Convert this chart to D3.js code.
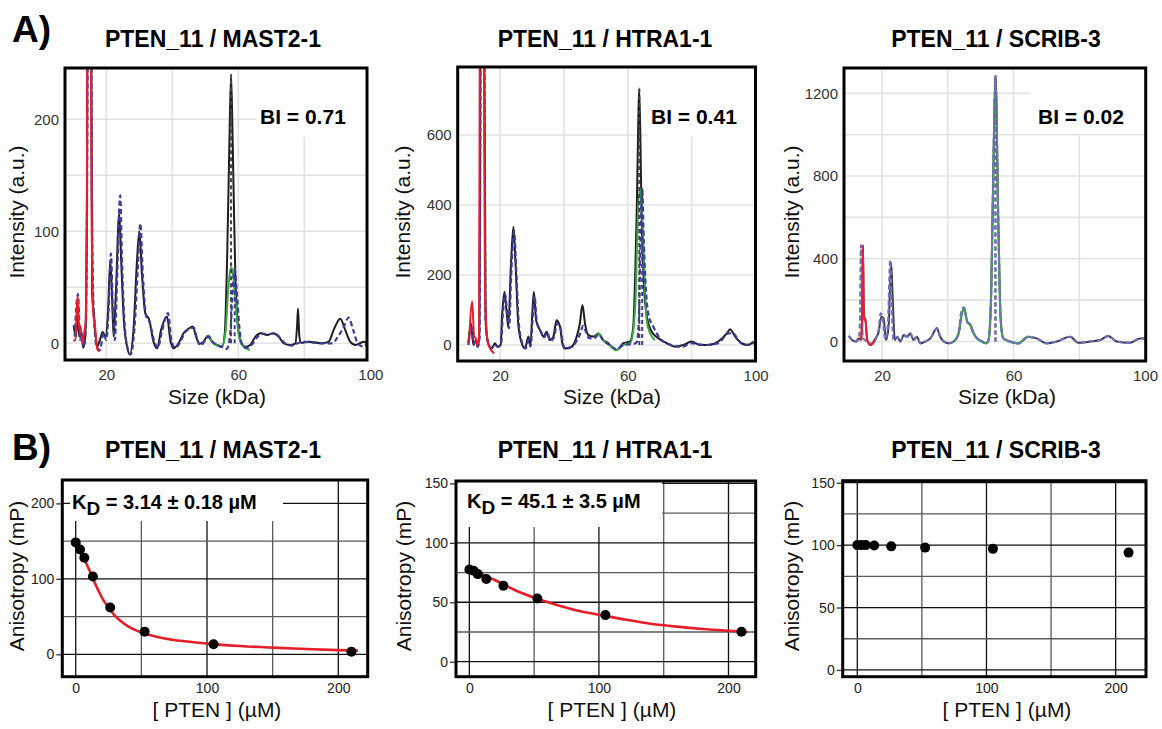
<!DOCTYPE html>
<html><head><meta charset="utf-8">
<script src="https://cdn.jsdelivr.net/npm/d3@7"></script>
<style>body{margin:0;background:#fff;}</style>
</head><body><svg id="chart" width="1162" height="729"></svg>
<script>
// ---------------- DATA ----------------
const panelTitles = ["PTEN_11 / MAST2-1", "PTEN_11 / HTRA1-1", "PTEN_11 / SCRIB-3"];
const biLabels = ["BI = 0.71", "BI = 0.41", "BI = 0.02"];
const sizeTickLabels = [20, 60, 100];
const sizeGridLines = [20, 40, 60, 80];

const mast2IntTicks = [0, 100, 200];
const mast2IntGrid = [0, 50, 100, 150, 200];
const htra1IntTicks = [0, 200, 400, 600];
const htra1IntGrid = [0, 200, 400, 600];
const scrib3IntTicks = [0, 400, 800, 1200];
const scrib3IntGrid = [0, 200, 400, 600, 800, 1000, 1200];

// traces: [size kDa, intensity a.u.]
const mast2Black = [[10.1,16],[10.8,6],[11.3,27],[11.8,6],[12.4,9],[13.0,-4],[13.6,6],[14.1,104],[14.4,400],[15.3,400],[15.7,45],[16.2,27],[17.2,-3],[18.2,4.5],[18.9,10],[19.7,6],[20.5,27],[21.2,74],[21.7,45],[22.2,6],[22.9,45],[23.9,116],[24.5,74],[25.3,21],[26.3,-3],[27.1,-10],[28.3,15],[29.3,74],[30.0,100],[30.8,62],[31.8,27],[33.0,21],[34.3,1.5],[35.4,-4.5],[36.6,12],[38.4,24],[39.4,3],[40.4,-4.5],[41.9,0],[43.4,9],[44.9,13],[46.2,15],[47.2,6],[48.2,-0.5],[49.5,1.5],[50.7,6.5],[52.0,1.5],[53.5,-1.5],[55.1,-3],[55.9,9],[56.6,74],[57.3,179],[57.8,240],[58.3,179],[59.1,60],[59.9,15],[60.9,0],[62.1,-3],[63.6,-1.5],[65.2,6],[66.7,9],[68.7,7.5],[70.7,9],[72.2,6],[73.8,0],[75.8,-1.5],[77.3,0],[77.8,15],[78.1,31],[78.5,6],[79.1,0.5],[81.3,1.5],[85.4,0],[87.4,1.5],[88.9,12],[90.9,22],[92.4,12],[93.9,1.5],[95.5,-1.5],[98.0,1.5],[99.0,0.5]];
const mast2Blue = [[10.4,6],[11.4,44],[12.1,3],[12.6,9],[13.2,-3],[13.8,15],[14.2,150],[14.5,400],[15.3,400],[15.6,150],[16.2,27],[17.1,-3],[18.1,-6],[19.1,9],[20.0,3],[20.7,30],[21.4,80],[22.0,30],[22.6,3],[23.2,50],[24.2,132],[24.8,70],[25.6,15],[26.6,-6],[27.4,-10],[28.5,12],[29.6,70],[30.3,107],[31.1,60],[32.0,25],[33.2,18],[34.5,2],[35.6,-4],[36.8,10],[38.7,27],[39.7,3],[40.8,-4],[42.2,0],[43.7,9],[45.3,13],[46.5,14],[47.5,4],[48.6,-2],[49.8,2],[51.0,6],[52.3,1],[54.0,-2],[55.5,-4],[56.5,-5],[57.6,10],[58.3,48],[58.9,66],[59.5,48],[60.3,15],[61.3,-2],[62.5,-4],[64.0,-1.5],[65.6,5],[67.0,9],[69.0,8],[71.0,9],[72.6,5],[74.2,0],[76.2,-2],[78.0,0],[79.4,1.5],[81.7,1],[85.8,0],[88.5,0],[90.0,5],[92.0,15],[93.4,23],[94.8,12],[96.2,0],[98.0,-3],[99.0,0]];
const mast2Green = [[50.3,6],[51.0,7],[52.0,2],[53.5,-2],[55.1,-3],[55.8,4],[56.2,12],[56.8,42],[57.4,62],[57.9,68],[58.4,62],[59.1,39],[60.1,9],[61.0,-1],[62.0,-4],[63.5,-6]];
const mast2Red = [[10.0,2],[10.6,3],[11.3,43],[11.8,12],[12.2,15],[12.8,0],[13.3,9],[13.8,21],[14.1,120],[14.4,400],[15.2,400],[15.5,150],[16.0,28],[16.5,18],[17.2,-4.5],[17.9,-7.5]];
const mast2Markers = [[57.8,240],[58.9,66]];

const htra1Black = [[10.1,5],[10.9,62],[11.7,0],[12.4,14],[13.0,-5],[13.5,24],[14.1,1200],[14.9,1200],[15.5,71],[16.3,5],[17.4,-10],[18.4,5],[19.2,-5],[20.2,0],[20.7,90],[21.4,152],[22.1,90],[22.6,52],[23.4,224],[24.2,338],[24.9,224],[25.7,62],[26.8,5],[27.8,-10],[28.9,24],[29.5,-5],[30.1,90],[30.6,152],[31.3,71],[32.5,43],[33.6,24],[34.6,38],[35.6,14],[36.7,24],[37.7,71],[38.8,52],[39.5,5],[40.3,-10],[42.4,-5],[44.0,24],[45.0,62],[45.8,114],[46.6,62],[47.6,29],[49.2,24],[50.8,33],[52.3,14],[53.9,5],[54.4,0],[56.5,-14],[58.6,5],[60.7,10],[61.7,52],[62.8,386],[63.6,733],[64.3,386],[65.2,148],[66.2,71],[67.5,38],[69.6,19],[72.2,5],[74.8,-5],[77.4,0],[80.0,10],[82.6,0],[85.2,0],[88.3,10],[91.0,33],[92.0,45],[93.6,24],[95.6,5],[97.7,0],[99.3,10]];
const htra1Blue = [[10.1,0],[11.0,60],[11.7,5],[12.5,10],[13.0,-5],[13.6,20],[14.1,1200],[14.9,1200],[15.5,71],[16.3,5],[17.4,-8],[18.4,0],[19.3,-5],[20.3,0],[20.9,90],[21.6,145],[22.3,85],[22.8,48],[23.6,220],[24.4,325],[25.1,210],[25.9,60],[27.0,5],[28.0,-10],[29.0,15],[29.6,-3],[30.3,90],[30.8,140],[31.5,68],[32.7,40],[33.8,22],[34.8,35],[35.8,12],[36.9,22],[37.9,62],[39.0,45],[39.7,3],[40.5,-10],[42.5,-5],[44.2,15],[45.2,35],[46.0,55],[46.8,40],[47.8,20],[49.3,18],[50.9,30],[52.4,12],[54.0,2],[56.5,-12],[58.6,0],[60.7,2],[61.7,3],[62.8,8],[63.4,60],[64.0,300],[64.5,448],[65.0,300],[65.4,205],[66.4,90],[68.0,52],[70.6,14],[73.7,0],[76.9,-5],[80.0,5],[84.2,0],[88.3,5],[91.5,33],[93.0,33],[94.6,14],[96.7,0],[99.5,5]];
const htra1Green = [[49.7,24],[50.8,33],[52.3,14],[53.9,2],[55.5,-10],[56.5,-14],[58.6,0],[60.7,5],[61.7,40],[62.5,148],[63.1,357],[63.8,448],[64.3,400],[64.9,281],[65.9,71],[67.0,33],[68.5,14]];
const htra1Red = [[10.3,5],[11.3,124],[11.9,24],[12.4,19],[12.9,0],[13.4,24],[13.8,1200],[14.8,1200],[15.3,148],[16.1,14],[16.9,-10],[17.6,-19],[18.2,-24]];
const htra1Markers = [[63.6,733],[64.5,448]];

const scrib3Black = [[9.9,27],[10.9,7],[12.1,0],[12.9,15],[13.6,10],[13.9,60],[14.2,466],[14.5,104],[14.9,112],[15.5,7],[16.5,-17],[17.2,-9],[18.0,15],[19.0,47],[19.8,120],[20.5,112],[21.2,7],[22.0,72],[22.8,378],[23.2,233],[23.9,7],[24.6,23],[25.6,0],[26.6,31],[27.6,23],[28.6,39],[29.6,7],[30.6,23],[31.7,-9],[33.2,0],[34.7,15],[36.7,64],[37.7,23],[38.8,0],[40.3,-9],[41.8,0],[43.3,39],[44.3,136],[45.0,160],[45.9,96],[46.9,80],[47.9,39],[48.9,15],[50.4,0],[51.6,-9],[52.4,7],[53.2,233],[54.0,958],[54.5,1285],[55.4,555],[56.1,104],[56.9,15],[58.9,0],[61.5,-9],[64.5,23],[67.0,15],[70.1,-9],[73.1,0],[77.2,23],[79.7,-6],[83.3,0],[86.3,7],[88.8,27],[91.4,0],[95.4,-6],[98.5,15],[100,15]];
const scrib3Blue = [[9.9,27],[10.9,7],[12.1,0],[12.9,10],[13.3,100],[13.6,466],[13.9,200],[14.1,23],[14.6,10],[15.5,0],[16.5,-10],[17.5,0],[18.3,20],[19.0,60],[19.6,136],[20.3,100],[21.0,10],[21.8,80],[22.5,394],[22.9,200],[23.5,7],[24.6,23],[25.6,0],[26.6,31],[27.6,23],[28.6,39],[29.6,7],[30.6,23],[31.7,-9],[33.2,0],[34.7,15],[36.7,64],[37.7,23],[38.8,0],[40.3,-9],[41.8,0],[43.3,45],[44.2,150],[44.9,165],[45.8,100],[46.8,80],[47.8,39],[48.9,15],[50.4,0],[51.6,-9],[52.4,7],[53.2,233],[54.0,958],[54.5,1285],[55.4,555],[56.1,104],[56.9,15],[58.9,0],[61.5,-9],[64.5,23],[67.0,15],[70.1,-9],[73.1,0],[77.2,23],[79.7,-6],[83.3,0],[86.3,7],[88.8,27],[91.4,0],[95.4,-6],[98.5,15],[100,15]];
const scrib3Green = [[41.8,0],[43.3,39],[44.3,136],[45.0,160],[45.9,96],[46.9,80],[47.9,39],[48.9,15],[50.4,0],[51.6,-9],[52.4,7],[53.2,233],[54.0,958],[54.5,1285],[55.4,555],[56.1,104],[56.9,15],[58.9,0],[61.5,-9],[64.5,23],[66.0,18]];
const scrib3Red = [[13.7,5],[14.0,200],[14.2,466],[14.4,200],[14.6,104],[14.9,112],[15.2,60],[15.5,7],[16.5,-17],[17.2,-9],[17.8,7]];
const scrib3Markers = [[54.5,1285],[54.5,1285]];

// B) anisotropy titrations
const ptenConc = [0, 3.28, 6.56, 13.1, 26.3, 52.5, 105, 210];
const mast2Aniso = [148.3, 139, 128, 103, 62, 30, 13.2, 3.5];
const htra1Aniso = [77.6, 76.5, 73.7, 69.5, 63.9, 53.2, 39.2, 25.2];
const scrib3Aniso = [100, 100, 100, 99.7, 99, 98, 97, 94];
const mast2FitX = [0,3,6,9,12,15,18,21,25,30,35,40,50,60,75,90,105,125,150,175,200,215];
const mast2FitY = [148,138,128,117,105,93,82,72,62,51,43,37,29,24,19,16,13.5,11,8.8,7,5.5,4.8];
const htra1FitX = [0,10,20,30,40,52.5,65,80,95,105,120,140,160,180,200,215];
const htra1FitY = [78,73.5,68.5,63,58,53,48.5,44,40.5,38.5,35.5,32,29.5,27.5,26,25];
const kdValues = ["3.14 ± 0.18 µM", "45.1 ± 3.5 µM"];
const concTickLabels = [0, 100, 200];
const concGridMajor = [0, 100, 200];
const concGridMinor = [50, 150];
const mast2AnisoTicks = [0, 100, 200];
const mast2AnisoMinor = [50, 150];
const anisoTicks150 = [0, 50, 100, 150];
const anisoMinor150 = [25, 75, 125];

// ---------------- DRAWING ----------------
const FONT = '"Liberation Sans", Arial, Helvetica, sans-serif';
const svg = d3.select('#chart');
let clipN = 0;

function addText(x, y, str, size, weight, anchor, fill) {
  return svg.append('text').attr('x', x).attr('y', y).text(str)
    .attr('font-family', FONT).attr('font-size', size).attr('font-weight', weight || 'normal')
    .attr('text-anchor', anchor || 'start').attr('fill', fill || '#000');
}
function addVText(x, y, str, size) {
  return svg.append('text').attr('transform', `translate(${x},${y}) rotate(-90)`).text(str)
    .attr('font-family', FONT).attr('font-size', size).attr('text-anchor', 'middle').attr('fill', '#111');
}
function makeClip(o) {
  const id = 'clip' + (clipN++);
  svg.append('clipPath').attr('id', id).append('rect')
    .attr('x', o.left).attr('y', o.top).attr('width', o.right - o.left).attr('height', o.bottom - o.top);
  return `url(#${id})`;
}

addText(12, 42, 'A)', 37, 'bold');
addText(12, 460, 'B)', 37, 'bold');

function panelA(o) {
  const x = d3.scaleLinear().domain(o.xDomain).range([o.left, o.right]);
  const y = d3.scaleLinear().domain(o.yDomain).range([o.bottom, o.top]);
  const clip = makeClip(o);
  const g = svg.append('g');
  const grid = g.append('g').attr('clip-path', clip);
  grid.selectAll(null).data(sizeGridLines).enter().append('line')
    .attr('x1', d => x(d)).attr('x2', d => x(d)).attr('y1', o.top).attr('y2', o.bottom)
    .attr('stroke', '#e3e3e3').attr('stroke-width', 1.6);
  grid.selectAll(null).data(o.grid).enter().append('line')
    .attr('x1', o.left).attr('x2', o.right).attr('y1', d => y(d)).attr('y2', d => y(d))
    .attr('stroke', '#e3e3e3').attr('stroke-width', 1.6);
  // label background
  g.append('rect').attr('x', o.box[0]).attr('y', o.top).attr('width', o.right - o.box[0]).attr('height', o.box[1] - o.top).attr('fill', '#fff');

  const line = d3.line().x(d => x(d[0])).y(d => y(d[1])).curve(d3.curveMonotoneX);
  const tg = g.append('g').attr('clip-path', clip).attr('fill', 'none').attr('stroke-linejoin', 'round');
  tg.append('path').datum(o.black).attr('d', line).attr('stroke', o.blackColor).attr('stroke-width', 2);
  tg.append('path').datum(o.green).attr('d', line).attr('stroke', '#3aa845').attr('stroke-width', 2);
  tg.append('path').datum(o.blue).attr('d', line).attr('stroke', o.blueColor).attr('stroke-width', 2.2).attr('stroke-dasharray', '5,3');
  tg.append('path').datum(o.red).attr('d', line).attr('stroke', '#e3202b').attr('stroke-width', 2);
  tg.selectAll(null).data(o.markers).enter().append('line')
    .attr('x1', d => x(d[0])).attr('x2', d => x(d[0])).attr('y1', y(0)).attr('y2', d => y(d[1]))
    .attr('stroke', (d, i) => i === 0 ? '#444' : o.blueColor).attr('stroke-width', 2).attr('stroke-dasharray', '4,3');

  g.append('rect').attr('x', o.left).attr('y', o.top).attr('width', o.right - o.left).attr('height', o.bottom - o.top)
    .attr('fill', 'none').attr('stroke', '#000').attr('stroke-width', 3);

  const xa = g.append('g').attr('transform', `translate(0,${o.bottom})`)
    .call(d3.axisBottom(x).tickValues(sizeTickLabels).tickFormat(d3.format('d')).tickSize(0).tickPadding(9));
  xa.select('.domain').remove();
  xa.attr('font-family', FONT).attr('font-size', 15);
  xa.selectAll('text').attr('fill', '#333');
  const ya = g.append('g').attr('transform', `translate(${o.left},0)`)
    .call(d3.axisLeft(y).tickValues(o.ticks).tickFormat(d3.format('d')).tickSize(0).tickPadding(6));
  ya.select('.domain').remove();
  ya.attr('font-family', FONT).attr('font-size', 15);
  ya.selectAll('text').attr('fill', '#333');

  addText(o.titleX, 47, o.title, 23, 'bold', 'middle');
  addText(o.biX, 124, o.bi, 21, 'bold');
  addText(o.xTitleX, 404, 'Size (kDa)', 21, 'normal', 'middle', '#111');
  addVText(o.yTitleX, 212, 'Intensity (a.u.)', 21);
}

panelA({left: 65, right: 367, top: 68, bottom: 360, xDomain: [7.48, 99.0], yDomain: [-14.9, 245.8],
  grid: mast2IntGrid, ticks: mast2IntTicks, box: [257, 137],
  black: mast2Black, blue: mast2Blue, green: mast2Green, red: mast2Red, markers: mast2Markers,
  blackColor: '#1e1e1e', blueColor: '#3c3c9e',
  title: panelTitles[0], titleX: 213, bi: biLabels[0], biX: 260, xTitleX: 217, yTitleX: 24});
panelA({left: 457.7, right: 755.5, top: 67, bottom: 361, xDomain: [6.76, 99.97], yDomain: [-45.7, 794.3],
  grid: htra1IntGrid, ticks: htra1IntTicks, box: [648, 137],
  black: htra1Black, blue: htra1Blue, green: htra1Green, red: htra1Red, markers: htra1Markers,
  blackColor: '#1e1e1e', blueColor: '#3c3c9e',
  title: panelTitles[1], titleX: 605, bi: biLabels[1], biX: 651, xTitleX: 612, yTitleX: 410});
panelA({left: 844, right: 1145.7, top: 68, bottom: 361, xDomain: [8.44, 100.2], yDomain: [-94.3, 1322.5],
  grid: scrib3IntGrid, ticks: scrib3IntTicks, box: [1030, 134],
  black: scrib3Black, blue: scrib3Blue, green: scrib3Green, red: scrib3Red, markers: scrib3Markers,
  blackColor: '#3a3a3a', blueColor: '#6f6fc4',
  title: panelTitles[2], titleX: 996, bi: biLabels[2], biX: 1038, xTitleX: 1007, yTitleX: 799});

function panelB(o) {
  const x = d3.scaleLinear().domain(o.xDomain).range([o.left, o.right]);
  const y = d3.scaleLinear().domain(o.yDomain).range([o.bottom, o.top]);
  const clip = makeClip(o);
  const g = svg.append('g');
  const grid = g.append('g').attr('clip-path', clip);
  const vLines = concGridMinor.map(v => [v, '#5a5a5a']).concat(concGridMajor.map(v => [v, '#111']));
  grid.selectAll(null).data(vLines).enter().append('line')
    .attr('x1', d => x(d[0])).attr('x2', d => x(d[0])).attr('y1', o.top).attr('y2', o.bottom)
    .attr('stroke', d => d[1]).attr('stroke-width', 1.3);
  const hLines = o.minor.map(v => [v, '#5a5a5a']).concat(o.ticks.map(v => [v, '#111']));
  grid.selectAll(null).data(hLines).enter().append('line')
    .attr('x1', o.left).attr('x2', o.right).attr('y1', d => y(d[0])).attr('y2', d => y(d[0]))
    .attr('stroke', d => d[1]).attr('stroke-width', 1.3);

  if (o.kd) {
    g.append('rect').attr('x', o.box[0]).attr('y', o.top).attr('width', o.box[1] - o.box[0]).attr('height', o.box[2] - o.top).attr('fill', '#fff');
    const t = svg.append('text').attr('x', o.kdX).attr('y', o.kdY).attr('font-family', FONT)
      .attr('font-size', 20).attr('font-weight', 'bold').attr('fill', '#000');
    t.append('tspan').text('K');
    t.append('tspan').text('D').attr('dy', 6).attr('font-size', 19);
    t.append('tspan').text(' = ' + o.kd).attr('dy', -6);
  }
  const pg = g.append('g').attr('clip-path', clip);
  if (o.fitX) {
    const fit = o.fitX.map((v, i) => [v, o.fitY[i]]);
    pg.append('path').datum(fit).attr('fill', 'none').attr('stroke', '#e41f2a').attr('stroke-width', 2.6)
      .attr('d', d3.line().x(d => x(d[0])).y(d => y(d[1])).curve(d3.curveMonotoneX));
  }
  pg.selectAll(null).data(ptenConc.map((c, i) => [c, o.vals[i]])).enter().append('circle')
    .attr('cx', d => x(d[0])).attr('cy', d => y(d[1])).attr('r', 5).attr('fill', '#000');

  g.append('rect').attr('x', o.left).attr('y', o.top).attr('width', o.right - o.left).attr('height', o.bottom - o.top)
    .attr('fill', 'none').attr('stroke', '#000').attr('stroke-width', 3);

  const xa = g.append('g').attr('transform', `translate(0,${o.bottom})`)
    .call(d3.axisBottom(x).tickValues(concTickLabels).tickSize(0).tickPadding(6));
  xa.select('.domain').remove();
  xa.attr('font-family', FONT).attr('font-size', 14);
  xa.selectAll('text').attr('fill', '#222');
  const ya = g.append('g').attr('transform', `translate(${o.left - 1},0)`)
    .call(d3.axisLeft(y).tickValues(o.ticks).tickSize(5).tickPadding(2));
  ya.select('.domain').remove();
  ya.attr('font-family', FONT).attr('font-size', 14);
  ya.selectAll('text').attr('fill', '#222');
  ya.selectAll('line').attr('stroke', '#333').attr('stroke-width', 1.3);

  addText(o.titleX, 458, o.title, 23, 'bold', 'middle');
  addText(o.xTitleX, 717, '[ PTEN ] (µM)', 21, 'normal', 'middle', '#111');
  addVText(o.yTitleX, 576, 'Anisotropy (mP)', 21);
}

panelB({left: 62.3, right: 367.7, top: 480, bottom: 676.7, xDomain: [-10.2, 222.4], yDomain: [-29.7, 231],
  ticks: mast2AnisoTicks, minor: mast2AnisoMinor, vals: mast2Aniso, fitX: mast2FitX, fitY: mast2FitY,
  kd: kdValues[0], box: [70, 283, 521], kdX: 72, kdY: 509,
  title: panelTitles[0], titleX: 213, xTitleX: 217, yTitleX: 24});
panelB({left: 456, right: 755.7, top: 481, bottom: 676.7, xDomain: [-10.3, 221], yDomain: [-12.6, 152],
  ticks: anisoTicks150, minor: anisoMinor150, vals: htra1Aniso, fitX: htra1FitX, fitY: htra1FitY,
  kd: kdValues[1], box: [456, 662, 527], kdX: 467, kdY: 508,
  title: panelTitles[1], titleX: 605, xTitleX: 612, yTitleX: 411});
panelB({left: 842.7, right: 1146, top: 480.7, bottom: 676.7, xDomain: [-11.3, 223.5], yDomain: [-5.4, 151.6],
  ticks: anisoTicks150, minor: anisoMinor150, vals: scrib3Aniso,
  title: panelTitles[2], titleX: 996, xTitleX: 1007, yTitleX: 799});
</script></body></html>
